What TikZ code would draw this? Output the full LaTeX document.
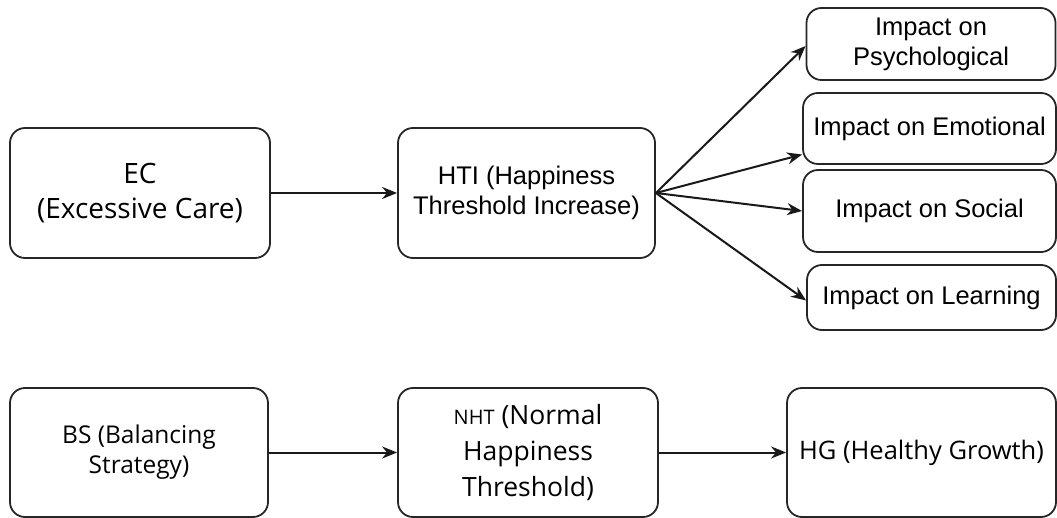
\documentclass[tikz,border=0pt]{standalone}
\usepackage{fontspec}
\setmainfont{Liberation Sans}
\newfontfamily\segoe{Open Sans}
\usetikzlibrary{arrows.meta}
\tikzset{
  box/.style={draw=black!85, line width=1.8pt, rounded corners=15pt, align=center, inner sep=0pt},
  flow/.style={draw=black!90, line width=2pt, -{Stealth[length=15pt,width=12pt]}}
}
\begin{document}
\begin{tikzpicture}[x=1pt,y=-1pt]
\useasboundingbox (0,0) rectangle (1057,518);
\node[box, minimum width=260pt, minimum height=130pt, font=\segoe\fontsize{28}{35}\selectfont] (ec) at (140,193) {EC\\(Excessive Care)};
\node[box, minimum width=257pt, minimum height=130pt, font=\fontsize{25.5}{30}\selectfont] (hti) at (526.5,193) {HTI (Happiness\\Threshold Increase)};

\node[box, minimum width=249pt, minimum height=72pt, font=\fontsize{25.5}{30}\selectfont] (psy) at (931,44) {Impact on\\Psychological};
\node[box, minimum width=253pt, minimum height=71pt, font=\fontsize{25.5}{30}\selectfont] (emo) at (929.5,128.5) {Impact on Emotional};
\node[box, minimum width=253pt, minimum height=82pt, font=\fontsize{25.5}{30}\selectfont] (soc) at (929.5,211) {Impact on Social};
\node[box, minimum width=249pt, minimum height=65pt, font=\fontsize{25.5}{30}\selectfont] (lrn) at (931.5,297.5) {Impact on Learning};

\node[box, minimum width=258pt, minimum height=129pt, font=\segoe\fontsize{24.5}{30}\selectfont] (bs) at (139,452.5) {BS (Balancing\\Strategy)};
\node[box, minimum width=260pt, minimum height=129pt, font=\segoe\fontsize{26.5}{36}\selectfont] (nht) at (528,452.5) {{\fontsize{20}{36}\selectfont NHT} (Normal\\Happiness\\Threshold)};
\node[box, minimum width=269pt, minimum height=129pt, font=\segoe\fontsize{25.5}{30}\selectfont] (hg) at (921.5,452.5) {HG (Healthy Growth)};

\path[flow] (ec) -- (hti);
\path[flow] (hti.east) -- ([yshift=-2pt]psy.west);
\path[flow] (hti.east) -- ([yshift=-26pt]emo.west);
\path[flow] (hti.east) -- (soc.west);
\path[flow] (hti.east) -- ([yshift=-3pt]lrn.west);
\path[flow] (bs) -- (nht);
\path[flow] (nht) -- (hg);
\end{tikzpicture}
\end{document}
